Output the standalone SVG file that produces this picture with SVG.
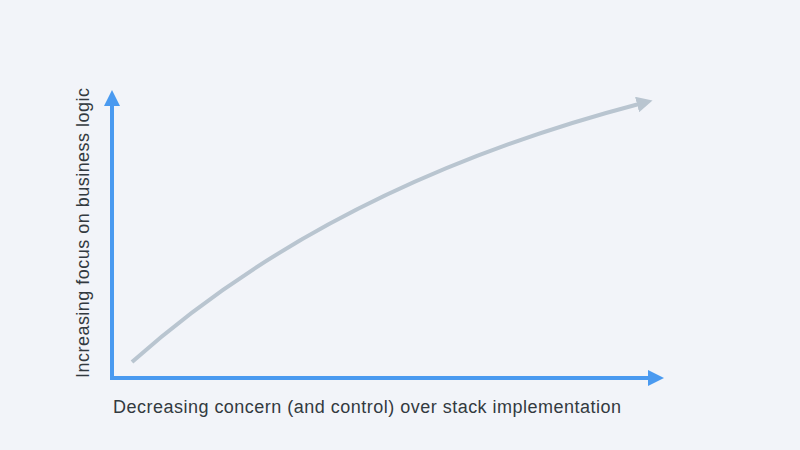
<svg xmlns="http://www.w3.org/2000/svg" width="800" height="450" viewBox="0 0 800 450">
<defs>
<style>
.lbl{font-family:"Liberation Sans",Arial,sans-serif;font-size:18px;fill:#333a40}
.axis{stroke:#4a9af0;stroke-width:4;fill:none}
.curve{stroke:#b9c5d0;stroke-width:4;fill:none}
</style>
<marker id="ab" viewBox="0 0 16 16" refX="2" refY="8" markerWidth="16" markerHeight="16" markerUnits="userSpaceOnUse" orient="auto"><path d="M0,0L16,8L0,16z" fill="#4a9af0"/></marker>
<marker id="ag" viewBox="0 0 16 16" refX="2" refY="8" markerWidth="16" markerHeight="16" markerUnits="userSpaceOnUse" orient="auto"><path d="M0,0L16,8L0,16z" fill="#b9c5d0"/></marker>
</defs>
<rect width="800" height="450" fill="#f2f4f9"/>
<g id="connectors">
<path class="axis" d="M112,380L112,104" marker-end="url(#ab)"/>
<path class="axis" d="M110,378L650,378" marker-end="url(#ab)"/>
<path class="curve" d="M132,362Q330,185 639,104" marker-end="url(#ag)"/>
</g>
<g id="x-label"><text class="lbl" x="113" y="413" textLength="508">Decreasing concern (and control) over stack implementation</text></g>
<g id="y-label"><text class="lbl" transform="translate(89,378) rotate(-90)" x="0" y="0" textLength="290">Increasing focus on business logic</text></g>
</svg>
